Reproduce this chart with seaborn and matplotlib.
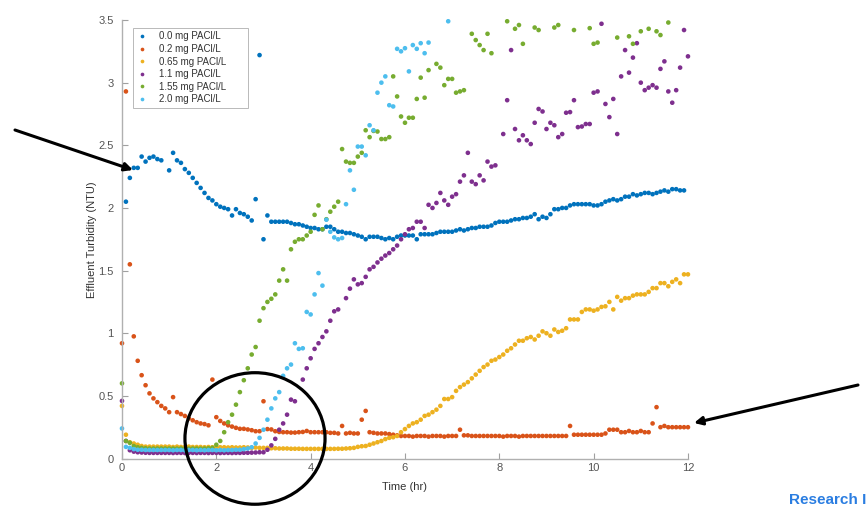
import numpy as np
import pandas as pd
import seaborn as sns
import matplotlib.pyplot as plt
from matplotlib.patches import Ellipse

nan = np.nan

# jar test, readings every 5 min (hr)
t = np.arange(145) / 12

labels = ['0.0 mg PACl/L', '0.2 mg PACl/L', '0.65 mg PACl/L',
          '1.1 mg PACl/L', '1.55 mg PACl/L', '2.0 mg PACl/L']

# effluent turbidity (NTU), one row = one hour
ntu_00 = [nan, 2.05, 2.24, 2.32, 2.32, 2.41, 2.37, 2.40, 2.41, 2.39, 2.38, nan,
          2.30, 2.44, 2.38, 2.36, 2.31, 2.28, 2.24, 2.20, 2.16, 2.12, 2.08, 2.06,
          2.03, 2.01, 2.00, 1.99, 1.94, 1.99, 1.96, 1.95, 1.93, 1.90, 2.07, 3.22,
          1.75, 1.94, 1.89, 1.89, 1.89, 1.89, 1.89, 1.88, 1.87, 1.87, 1.86, 1.85,
          1.84, 1.84, 1.83, 1.83, 1.85, 1.85, 1.83, 1.81, 1.81, 1.80, 1.80, 1.79,
          1.78, 1.77, 1.75, 1.77, 1.77, 1.77, 1.76, 1.75, 1.76, 1.75, 1.77, 1.78,
          1.78, 1.78, 1.78, 1.75, 1.79, 1.79, 1.79, 1.79, 1.80, 1.81, 1.81, 1.81,
          1.81, 1.82, 1.83, 1.82, 1.83, 1.84, 1.84, 1.85, 1.85, 1.85, 1.86, 1.88,
          1.89, 1.89, 1.89, 1.90, 1.91, 1.91, 1.92, 1.92, 1.93, 1.95, 1.91, 1.93,
          1.92, 1.95, 1.99, 1.99, 2.00, 2.00, 2.02, 2.03, 2.03, 2.03, 2.03, 2.03,
          2.02, 2.02, 2.03, 2.05, 2.06, 2.07, 2.06, 2.07, 2.09, 2.09, 2.11, 2.10,
          2.11, 2.12, 2.12, 2.11, 2.12, 2.13, 2.14, 2.13, 2.15, 2.15, 2.14, 2.14]

ntu_02 = [0.92, 2.93, 1.55, 0.975, 0.78, 0.665, 0.585, 0.52, 0.48, 0.45, 0.42, 0.40,
          0.37, 0.49, 0.37, 0.355, 0.34, 0.32, 0.305, 0.29, 0.28, 0.275, 0.265, 0.63,
          0.33, 0.30, 0.28, 0.265, 0.255, 0.245, 0.237, 0.237, 0.232, 0.226, 0.218, 0.218,
          0.457, 0.235, 0.232, 0.218, 0.212, 0.21, 0.21, 0.207, 0.207, 0.21, 0.212, 0.22,
          0.21, 0.21, 0.21, 0.21, 0.21, 0.205, 0.205, 0.20, 0.26, 0.20, 0.205, 0.20,
          0.20, 0.31, 0.38, 0.21, 0.205, 0.20, 0.20, 0.20, 0.195, 0.19, 0.185, 0.18,
          0.18, 0.18, 0.175, 0.18, 0.18, 0.18, 0.175, 0.18, 0.18, 0.18, 0.175, 0.18,
          0.18, 0.18, 0.23, 0.185, 0.185, 0.18, 0.18, 0.18, 0.18, 0.18, 0.18, 0.18,
          0.18, 0.175, 0.18, 0.18, 0.18, 0.175, 0.18, 0.18, 0.18, 0.18, 0.18, 0.18,
          0.18, 0.18, 0.18, 0.18, 0.18, 0.18, 0.26, 0.19, 0.19, 0.19, 0.19, 0.19,
          0.19, 0.19, 0.19, 0.20, 0.23, 0.23, 0.23, 0.21, 0.21, 0.22, 0.21, 0.21,
          0.22, 0.21, 0.21, 0.28, 0.41, 0.25, 0.26, 0.25, 0.25, 0.25, 0.25, 0.25,
          0.25]

ntu_065 = [0.42, 0.19, 0.13, 0.12, 0.11, 0.10, 0.095, 0.095, 0.095, 0.095, 0.095, 0.095,
           0.095, 0.092, 0.095, 0.092, 0.092, 0.095, 0.092, 0.092, 0.092, 0.09, 0.092, 0.09,
           0.09, 0.09, 0.09, 0.088, 0.09, 0.088, 0.088, 0.09, 0.088, 0.085, 0.088, 0.085,
           0.085, 0.085, 0.082, 0.082, 0.08, 0.08, 0.08, 0.078, 0.078, 0.078, 0.077, 0.077,
           0.077, 0.077, 0.077, 0.077, 0.077, 0.077, 0.077, 0.078, 0.078, 0.08, 0.082, 0.085,
           0.093, 0.098, 0.10, 0.11, 0.12, 0.13, 0.14, 0.155, 0.165, 0.17, 0.18, 0.21,
           0.235, 0.26, 0.28, 0.29, 0.31, 0.34, 0.35, 0.37, 0.39, 0.42, 0.475, 0.475,
           0.49, 0.54, 0.57, 0.59, 0.61, 0.64, 0.67, 0.70, 0.73, 0.75, 0.78, 0.79,
           0.81, 0.83, 0.86, 0.88, 0.91, 0.94, 0.94, 0.96, 0.97, 0.95, 0.98, 1.015,
           1.00, 0.98, 1.03, 1.01, 1.02, 1.04, 1.11, 1.11, 1.11, 1.17, 1.19, 1.19,
           1.18, 1.19, 1.21, 1.215, 1.25, 1.19, 1.29, 1.26, 1.28, 1.28, 1.30, 1.31,
           1.31, 1.31, 1.33, 1.36, 1.36, 1.40, 1.40, 1.375, 1.41, 1.43, 1.40, 1.47,
           1.47]

ntu_11 = [0.46, 0.14, 0.066, 0.055, 0.05, 0.048, 0.046, 0.045, 0.045, 0.045, 0.045, 0.045,
          0.045, 0.044, 0.045, 0.045, 0.044, 0.045, 0.045, 0.044, 0.045, 0.045, 0.044, 0.045,
          0.045, 0.044, 0.045, 0.045, 0.044, 0.045, 0.045, 0.046, 0.046, 0.047, 0.048, 0.05,
          0.05, 0.07, 0.105, 0.157, 0.23, 0.28, 0.35, 0.47, 0.457, nan, 0.63, 0.72,
          0.80, 0.875, 0.92, 0.97, 1.015, 1.10, 1.175, 1.19, nan, 1.28, 1.356, 1.43,
          1.39, 1.40, 1.45, 1.51, 1.53, 1.565, 1.595, 1.62, 1.64, 1.67, 1.70, 1.75,
          1.79, 1.83, 1.84, 1.89, 1.89, 1.84, 2.025, 2.00, 2.04, 2.12, 2.06, 2.025,
          2.09, 2.11, 2.21, 2.26, 2.44, 2.21, 2.19, 2.26, 2.22, 2.37, 2.33, 2.34,
          nan, 2.59, 2.86, 3.26, 2.63, 2.54, 2.58, 2.54, 2.51, 2.68, 2.79, 2.77,
          2.63, 2.68, 2.66, 2.565, 2.59, 2.76, 2.765, 2.86, 2.645, 2.65, 2.67, 2.67,
          2.92, 2.93, 3.47, 2.83, 2.725, 2.87, 2.59, 3.05, 3.26, 3.08, 3.20, 3.315,
          3.00, 2.94, 2.96, 2.98, 2.96, 3.11, 3.17, 2.93, 2.84, 2.94, 3.12, 3.42,
          3.21]

ntu_155 = [0.60, 0.14, 0.125, 0.10, 0.09, 0.085, 0.082, 0.08, 0.08, 0.08, 0.08, 0.08,
           0.08, 0.08, 0.079, 0.08, 0.08, 0.079, 0.08, 0.08, 0.079, 0.08, 0.082, 0.085,
           0.11, 0.14, 0.21, 0.29, 0.35, 0.43, 0.53, 0.625, 0.72, 0.83, 0.89, 1.10,
           1.20, 1.25, 1.275, 1.31, 1.42, 1.51, 1.42, 1.67, 1.73, 1.75, 1.75, 1.78,
           1.81, 1.945, 2.02, 1.83, 1.91, 1.97, 2.01, 2.05, 2.47, 2.37, 2.36, 2.36,
           2.41, 2.44, 2.62, 2.565, 2.615, 2.61, 2.55, 2.55, 2.565, 3.05, 2.89, 2.73,
           2.68, 2.72, 2.72, 2.87, 3.04, 2.88, 3.10, nan, 3.15, 3.12, 2.98, 3.03,
           3.03, 2.92, 2.93, 2.94, nan, 3.39, 3.34, 3.30, 3.26, 3.39, 3.235, nan,
           nan, nan, 3.49, nan, 3.43, 3.46, 3.31, nan, nan, 3.44, 3.42, nan,
           nan, nan, 3.44, 3.46, nan, nan, nan, 3.42, nan, nan, nan, 3.435,
           3.31, 3.32, nan, nan, nan, nan, 3.36, nan, nan, 3.37, 3.31, nan,
           3.41, nan, 3.43, nan, 3.41, 3.38, nan, 3.48]

ntu_20 = [0.24, 0.093, 0.085, 0.075, 0.07, 0.07, 0.068, 0.068, 0.068, 0.068, 0.068, 0.068,
          0.068, 0.066, 0.068, 0.068, 0.066, 0.068, 0.068, 0.066, 0.068, 0.066, 0.068, 0.068,
          0.066, 0.068, 0.066, 0.068, 0.068, 0.07, 0.07, 0.075, 0.08, 0.09, 0.12, 0.165,
          0.23, 0.31, 0.40, 0.48, 0.53, 0.66, 0.72, 0.75, 0.92, 0.875, 0.88, 1.17,
          1.15, 1.31, 1.48, 1.38, 1.906, 1.81, 1.765, 1.75, 1.76, 2.03, 2.30, 2.145,
          2.49, 2.49, 2.42, 2.66, 2.62, 2.92, 3.00, 3.05, 2.82, 2.81, 3.27, 3.25,
          3.275, 3.09, 3.30, 3.27, 3.315, 3.235, 3.32, nan, nan, nan, nan, 3.49]

series = [ntu_00, ntu_02, ntu_065, ntu_11, ntu_155, ntu_20]
colors = ['#0072BD', '#D95319', '#EDB120', '#7E2F8E', '#77AC30', '#4DBEEE']

frames = []
for lab, vals in zip(labels, series):
    frames.append(pd.DataFrame({'time': t[:len(vals)], 'ntu': vals, 'dose': lab}))
df = pd.concat(frames).dropna()

sns.set_style('ticks')
plt.rcParams['font.family'] = ['Liberation Sans', 'DejaVu Sans']

fig = plt.figure(figsize=(8.67, 5.08), dpi=100)
ax = fig.add_axes([0.1407, 0.0974, 0.6528, 0.8632])

sns.scatterplot(data=df, x='time', y='ntu', hue='dose', hue_order=labels,
                palette=colors, s=11, linewidth=0, ax=ax)
ax.collections[0].set_clip_on(False)   # dots at t=0 sit on the axis

ax.set_xlim(0, 12)
ax.set_ylim(0, 3.5)
ax.set_xticks(np.arange(0, 13, 2))
ax.set_yticks(np.arange(0, 3.6, 0.5))
ax.set_yticklabels(['0', '0.5', '1', '1.5', '2', '2.5', '3', '3.5'])
ax.tick_params(direction='in', length=4, width=0.8, colors='#a0a0a0',
               labelcolor='#555555', labelsize=8)
ax.tick_params(axis='y', pad=6)
for s in ['top', 'right']:
    ax.spines[s].set_visible(False)
for s in ['left', 'bottom']:
    ax.spines[s].set_color('#b0b0b0')
    ax.spines[s].set_linewidth(1.0)
ax.set_xlabel('Time (hr)', fontsize=8, color='#333333', labelpad=6)
ax.set_ylabel('Effluent Turbidity (NTU)', fontsize=8, color='#333333', labelpad=1)

h, l = ax.get_legend_handles_labels()
leg = ax.legend(h, l, loc='upper left', bbox_to_anchor=(0.019, 0.75, 0.203, 0.232),
                mode='expand', borderaxespad=0, fontsize=7, frameon=True,
                fancybox=False, handlelength=1.2, handletextpad=1.2,
                labelspacing=0.27, borderpad=0.35, markerscale=0.8)
leg.get_frame().set_edgecolor('#a8a8a8')
leg.get_frame().set_linewidth(0.7)
for txt in leg.get_texts():
    txt.set_color('#333333')

# slide annotations: arrows, circle, footer
arrow = dict(arrowstyle='-|>', color='black', lw=2.2, mutation_scale=12,
             shrinkA=0, shrinkB=0)
ax.annotate('', xy=(133, 338), xytext=(15, 378), xycoords='figure pixels',
            textcoords='figure pixels', arrowprops=arrow, annotation_clip=False)
ax.annotate('', xy=(694, 85), xytext=(858, 123), xycoords='figure pixels',
            textcoords='figure pixels', arrowprops=arrow, annotation_clip=False)
ax.add_patch(Ellipse((2.82, 0.16), 2.97, 1.05, fill=False, edgecolor='black',
                     lw=2.3, clip_on=False, zorder=5))
fig.text(789, 8, 'Research I', transform=None, color='#2a7de1', fontsize=11,
         fontweight='bold', va='center', ha='left')

fig.savefig('out.png', dpi=100, facecolor='white')
